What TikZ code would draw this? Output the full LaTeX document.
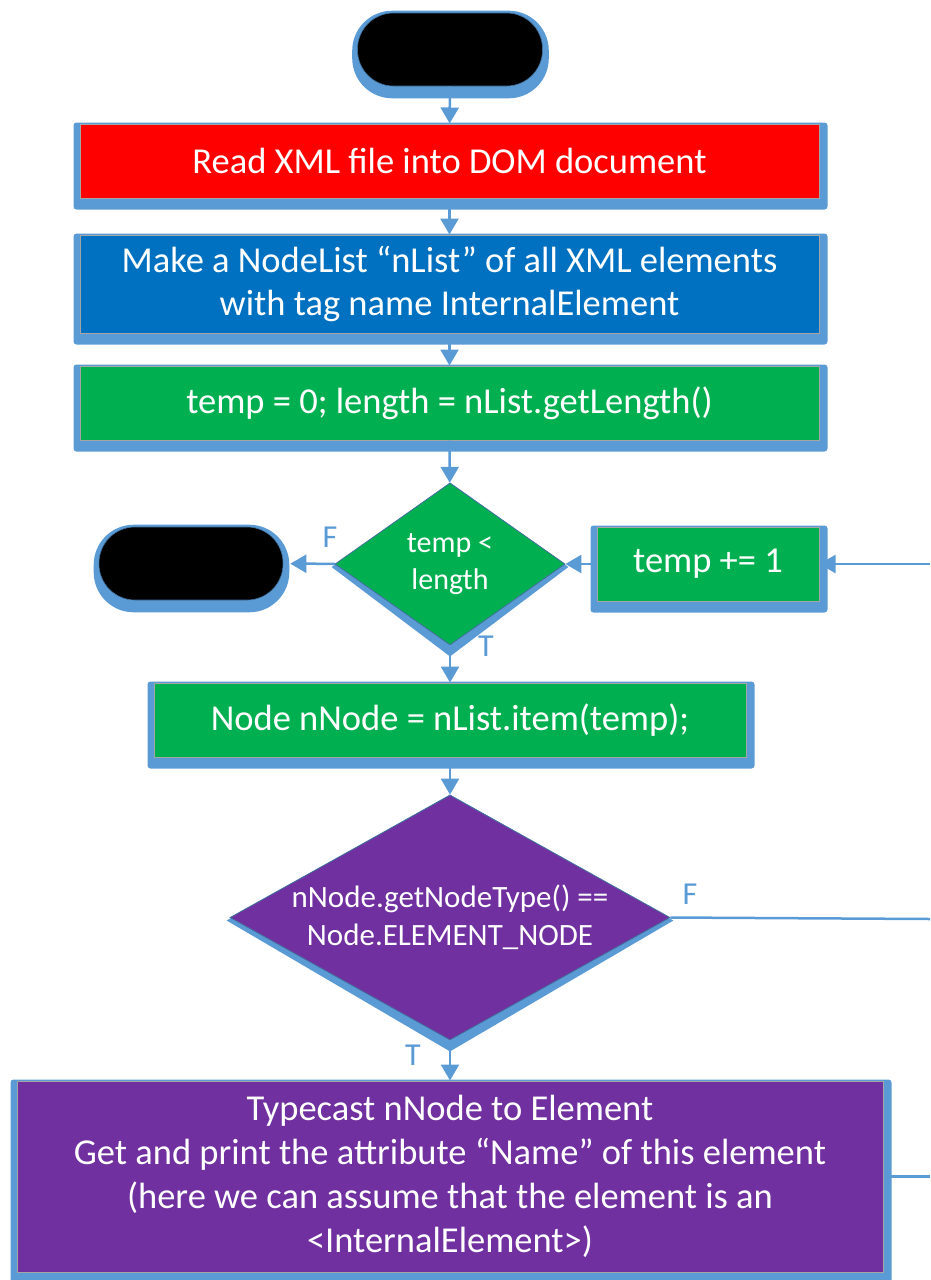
\documentclass[tikz,border=0pt]{standalone}
\usepackage{fontspec}
\setmainfont{Carlito}
\usetikzlibrary{shapes.geometric, arrows.meta, backgrounds}
\definecolor{FlowRed}{HTML}{FF0000}
\definecolor{FlowBlue}{HTML}{0070C0}
\definecolor{FlowGreen}{HTML}{00B050}
\definecolor{FlowPurple}{HTML}{7030A0}
\definecolor{FlowFrame}{HTML}{5B9BD5}
\definecolor{FlowGray}{HTML}{A5A5A5}
\definecolor{FlowEdge}{HTML}{41719C}

\tikzset{
  box/.style={draw=FlowGray, line width=1pt, text=white, inner sep=0pt, align=center,
    font=\fontsize{36.5}{43.5}\selectfont},
  term/.style={fill=black, draw=FlowEdge, line width=0.6pt, rounded corners=36pt,
    minimum width=185pt, minimum height=73pt},
  decision/.style={diamond, draw=FlowEdge, line width=0.8pt, text=white, inner sep=0pt,
    align=center, font=\fontsize{30}{36.5}\selectfont},
  flow/.style={-{Triangle[length=16pt,width=18pt]}, line width=2.5pt, FlowFrame},
  link/.style={line width=2.5pt, FlowFrame},
  lbl/.style={text=FlowFrame, inner sep=0pt, font=\fontsize{32}{38}\selectfont},
  bevel/.style={fill=FlowFrame, rounded corners=3pt}
}

% blue raised frame behind a box
\newcommand{\flowboxframe}[1]{%
  \fill[bevel] ([xshift=-6pt,yshift=1pt]#1.north west) rectangle ([xshift=8pt,yshift=-11pt]#1.south east);}
% same for the rounded terminators
\newcommand{\flowtermframe}[1]{%
  \fill[bevel, rounded corners=40pt] ([xshift=-5pt,yshift=2pt]#1.north west) rectangle ([xshift=6pt,yshift=-12pt]#1.south east);}
% and for the diamonds
\newcommand{\flowdiamondframe}[1]{%
  \fill[FlowFrame] ([xshift=-3pt,yshift=-3pt]#1.west) -- (#1.north) -- ([xshift=3pt,yshift=-3pt]#1.east) -- ([yshift=-11pt]#1.south) -- cycle;}

\begin{document}
\begin{tikzpicture}[x=1pt, y=-1pt]
  \useasboundingbox (0,0) rectangle (930,1280);

  % Start
  \node[term] (start) at (450,49.5) {};

  % Read the file
  \node[box, fill=FlowRed, minimum width=739pt, minimum height=74pt] (read) at (449.5,161) {Read XML file into DOM document};

  % Node list
  \node[box, fill=FlowBlue, minimum width=739pt, minimum height=98pt] (list) at (449.5,284) {Make a NodeList “nList” of all XML elements\\with tag name InternalElement};

  % Counter setup
  \node[box, fill=FlowGreen, minimum width=739pt, minimum height=74pt] (init) at (449.5,403) {temp = 0; length = nList.getLength()};

  % Loop test
  \node[decision, fill=FlowGreen, aspect=1.42, minimum width=230pt, minimum height=162pt] (loop) at (450,564) {temp <\\length};

  % End
  \node[term, minimum width=184pt] (stop) at (191,563.5) {};

  % Increment
  \node[box, fill=FlowGreen, minimum width=222pt, minimum height=74pt] (incr) at (708,564) {temp += 1};

  % Current item
  \node[box, fill=FlowGreen, minimum width=592pt, minimum height=74pt] (item) at (450,720) {Node nNode = nList.item(temp);};

  % Type test
  \node[decision, fill=FlowPurple, aspect=1.8, inner sep=-4pt, minimum width=440pt, minimum height=245pt,
    font=\fontsize{31}{38}\selectfont] (type) at (450,917.5) {nNode.getNodeType() ==\\Node.ELEMENT\_NODE};

  % Element output
  \node[box, fill=FlowPurple, minimum width=866pt, minimum height=191pt, font=\fontsize{36.5}{44}\selectfont] (cast) at (450,1176.5)
    {Typecast nNode to Element\\Get and print the attribute “Name” of this element\\(here we can assume that the element is an\\<InternalElement>)};

  % Loop return ends (off to the right)
  \coordinate (backin) at (930,564);
  \coordinate (backf) at (930,919);
  \coordinate (backt) at (930,1176.5);

  % Frames
  \begin{scope}[on background layer]
    \flowtermframe{start}
    \flowtermframe{stop}
    \flowboxframe{read}
    \flowboxframe{list}
    \flowboxframe{init}
    \flowboxframe{incr}
    \flowboxframe{item}
    \flowboxframe{cast}
    \flowdiamondframe{loop}
    \flowdiamondframe{type}
  \end{scope}

  % Arrows
  \draw[flow] (start) -- (read);
  \draw[flow] (read) -- (list);
  \draw[flow] (list) -- (init);
  \draw[flow] (init) -- (loop);
  \draw[flow, shorten >=7pt] (loop) -- (stop);
  \draw[flow] (incr) -- (loop);
  \draw[flow] (backin) -- (incr);
  \draw[flow] (loop) -- (item);
  \draw[flow] (item) -- (type);
  \draw[flow] (type) -- (cast);
  \draw[link] (type.east) -- (backf);
  \draw[link] (cast.east) -- (backt);

  % Branch labels
  \node[lbl] (f1) at (330,537) {F};
  \node[lbl] (t1) at (486,646) {T};
  \node[lbl] (f2) at (690,894) {F};
  \node[lbl] (t2) at (413,1055) {T};
\end{tikzpicture}
\end{document}
